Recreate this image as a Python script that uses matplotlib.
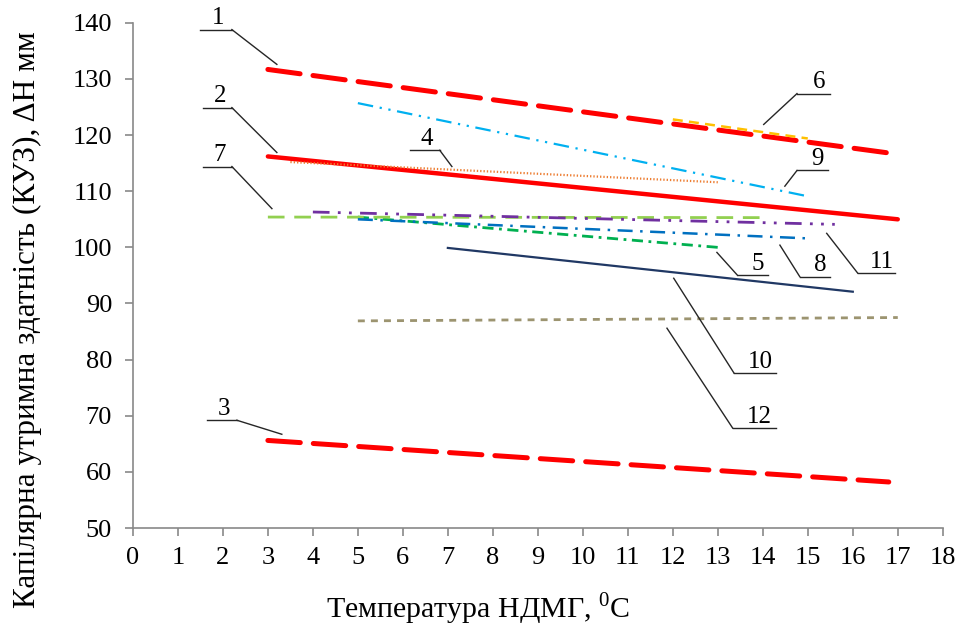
import matplotlib
matplotlib.use("Agg")
import matplotlib.pyplot as plt

plt.rcParams['font.family'] = ['Liberation Serif', 'DejaVu Serif']
plt.rcParams['mathtext.fontset'] = 'custom'
plt.rcParams['mathtext.rm'] = 'Liberation Serif'

# Series: x start/end (°C) and y start/end (КУЗ, ΔН мм)
s1_x = [3, 17];    s1_y = [131.7, 116.6]
s2_x = [3, 17];    s2_y = [116.2, 105.0]
s3_x = [3, 16.8];  s3_y = [65.6, 58.2]
s4_x = [3.5, 13];  s4_y = [115.2, 111.6]
s5_x = [5, 13];    s5_y = [105.4, 100.0]
s6_x = [12, 15];   s6_y = [122.8, 119.4]
s7_x = [3, 14];    s7_y = [105.4, 105.3]
s8_x = [5, 15];    s8_y = [105.0, 101.6]
s9_x = [5, 15];    s9_y = [125.7, 109.1]
s10_x = [7, 16];   s10_y = [99.9, 92.1]
s11_x = [4, 15.6]; s11_y = [106.3, 104.1]
s12_x = [5, 17];   s12_y = [86.9, 87.5]

x_ticks = list(range(0, 19))
y_ticks = list(range(50, 141, 10))

fig = plt.figure(figsize=(9.63, 6.35), dpi=100)
ax = fig.add_axes([0.138, 0.1685, 0.841, 0.7955])

red = '#FF0000'
ax.plot(s1_x, s1_y, color=red, lw=3.6, dashes=(6.5, 2.6), solid_capstyle='round', dash_capstyle='round')
ax.plot(s2_x, s2_y, color=red, lw=3.2, solid_capstyle='round')
ax.plot(s3_x, s3_y, color=red, lw=3.6, dashes=(6.5, 2.6), dash_capstyle='round')
ax.plot(s4_x, s4_y, color='#ED7D31', lw=1.6, dashes=(0.6, 0.9))
ax.plot(s5_x, s5_y, color='#00B050', lw=2.0, dashes=(4, 2, 1, 2))
ax.plot(s6_x, s6_y, color='#FFC000', lw=1.8, dashes=(4, 2.5))
ax.plot(s7_x, s7_y, color='#92D050', lw=2.0, dashes=(6, 3.5))
ax.plot(s8_x, s8_y, color='#0070C0', lw=1.8, dashes=(6, 3, 1, 3))
ax.plot(s9_x, s9_y, color='#00B0F0', lw=1.6, dashes=(7, 3, 1, 3, 1, 3))
ax.plot(s10_x, s10_y, color='#203864', lw=1.6)
ax.plot(s11_x, s11_y, color='#7030A0', lw=2.0, dashes=(6, 3, 1, 3, 1, 3))
ax.plot(s12_x, s12_y, color='#9C9470', lw=2.0, dashes=(2.5, 2.2))

ax.set_xlim(0, 18)
ax.set_ylim(50, 140)
ax.set_xticks(x_ticks)
ax.set_yticks(y_ticks)
for sp in ['top', 'right']:
    ax.spines[sp].set_visible(False)
for sp in ['left', 'bottom']:
    ax.spines[sp].set_color('#898989')
    ax.spines[sp].set_linewidth(1.2)
ax.tick_params(axis='both', colors='#898989', length=6, width=1.2, direction='out',
               labelsize=19, labelcolor='black')
ax.tick_params(axis='x', pad=8)
ax.tick_params(axis='y', pad=9)

# leader labels: label, line x left, line x right, line y, target x, target y, side
labels = [
    ('1', 1.49, 2.20, 138.8, 3.20, 132.6, 'right'),
    ('2', 1.56, 2.20, 124.9, 3.20, 116.9, 'right'),
    ('7', 1.56, 2.20, 114.4, 3.09, 106.9, 'right'),
    ('3', 1.64, 2.31, 69.2, 3.31, 66.7, 'right'),
    ('4', 6.16, 6.82, 117.3, 7.09, 114.4, 'right'),
    ('6', 14.76, 15.49, 127.4, 14.02, 121.9, 'left'),
    ('9', 14.76, 15.44, 113.7, 14.49, 110.9, 'left'),
    ('5', 13.44, 14.11, 95.0, 12.98, 99.1, 'left'),
    ('8', 14.82, 15.49, 94.8, 14.38, 100.4, 'left'),
    ('11', 16.11, 16.93, 95.4, 15.42, 102.5, 'left'),
    ('10', 13.36, 14.29, 77.6, 12.02, 94.5, 'left'),
    ('12', 13.33, 14.29, 67.8, 11.87, 85.6, 'left'),
]
for lab, xl, xr, yl, tx, ty, side in labels:
    ax.plot([xl, xr], [yl, yl], color='#262626', lw=1.0, clip_on=False)
    if side == 'right':
        ax.plot([xr, tx], [yl, ty], color='#262626', lw=1.0, clip_on=False)
    else:
        ax.plot([xl, tx], [yl, ty], color='#262626', lw=1.0, clip_on=False)
    ax.text((xl + xr) / 2 + (0.05 if side == 'right' else 0.12), yl + 0.1, lab, ha='center', va='bottom',
            fontsize=18, clip_on=False)

fig.text(27 / 963, 1 - 320 / 635, 'Капілярна утримна здатність (КУЗ), ΔН мм',
         rotation=90, ha='center', va='center', fontsize=22.5)
fig.text(478 / 963, 1 - 609 / 635, r'Температура НДМГ, $^{\mathregular{0}}$С',
         ha='center', va='center', fontsize=21.5)

fig.savefig('out.png', dpi=100, facecolor='white')
